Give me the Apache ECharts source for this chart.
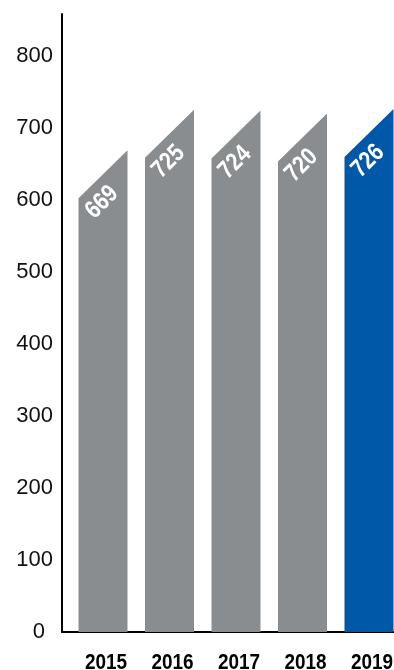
<!DOCTYPE html>
<html>
<head>
<meta charset="utf-8">
<script src="https://cdn.jsdelivr.net/npm/echarts@6/dist/echarts.min.js"></script>
<style>
html,body{margin:0;padding:0;background:#fff;}
#chart{width:394px;height:670px;}
</style>
</head>
<body>
<div id="chart"></div>
<script>
// ---- data ----
const years = ['2015', '2016', '2017', '2018', '2019'];
const values = [669, 725, 724, 720, 726];
const highlightYear = '2019';
const yTicks = [0, 100, 200, 300, 400, 500, 600, 700, 800];

const GRAY = '#8a8d8f';
const BLUE = '#0058a8';

const chart = echarts.init(document.getElementById('chart'), null, {renderer: 'canvas'});

const seriesData = years.map((y, i) => [i, values[i]]);

function renderItem(params, api) {
  const i = api.value(0);
  const v = api.value(1);
  const top = api.coord([i, v]);
  const base = api.coord([i, 0]);
  const unit = api.size([1, 0])[0];
  const w = unit * 0.737;
  const xL = top[0] - w / 2;
  const xR = top[0] + w / 2;
  const yTopR = top[1];
  const yTopL = top[1] + w * 0.98;
  const color = years[i] === highlightYear ? BLUE : GRAY;
  return {
    type: 'group',
    children: [
      {
        type: 'polygon',
        shape: { points: [[xL, base[1]], [xR, base[1]], [xR, yTopR], [xL, yTopL]] },
        style: { fill: color }
      },
      {
        type: 'text',
        x: xL + 23.5,
        y: yTopL + 4,
        rotation: Math.PI / 4,
        scaleX: 0.84,
        style: {
          text: String(v),
          fill: '#ffffff',
          font: 'bold 25px "Liberation Sans", Arial, sans-serif',
          align: 'center',
          verticalAlign: 'middle'
        }
      },
      {
        type: 'text',
        x: top[0] + 3,
        y: base[1] + 31,
        scaleX: 0.86,
        style: {
          text: years[i],
          fill: '#000000',
          font: 'bold 22px "Liberation Sans", Arial, sans-serif',
          align: 'center',
          verticalAlign: 'middle'
        }
      }
    ]
  };
}

chart.setOption({
  animation: false,
  backgroundColor: '#ffffff',
  grid: { left: 62, right: 0, top: 14, bottom: 38, containLabel: false },
  xAxis: {
    type: 'value',
    min: -0.6165,
    max: 4.376,
    axisLine: { show: true, onZero: false, lineStyle: { color: '#000', width: 2 } },
    axisTick: { show: false },
    axisLabel: { show: false },
    splitLine: { show: false }
  },
  yAxis: {
    type: 'value',
    min: 0,
    max: 858,
    interval: 100,
    axisLine: { show: true, onZero: false, lineStyle: { color: '#000', width: 2 } },
    axisTick: { show: false },
    splitLine: { show: false },
    axisLabel: {
      showMaxLabel: false,
      margin: 9,
      color: '#111',
      fontSize: 22,
      fontFamily: '"Liberation Sans", Arial, sans-serif',
      formatter: function (val) {
        if (yTicks.indexOf(val) < 0) return '';
        if (val === 0) return '{z|0}';
        return String(val);
      },
      rich: {
        z: { fontSize: 22, fontFamily: '"Liberation Sans", Arial, sans-serif', color: '#111', padding: [0, 8, 0, 0] }
      }
    }
  },
  series: [{
    type: 'custom',
    renderItem: renderItem,
    clip: false,
    encode: { x: 0, y: 1 },
    data: seriesData
  }]
});
</script>
</body>
</html>
